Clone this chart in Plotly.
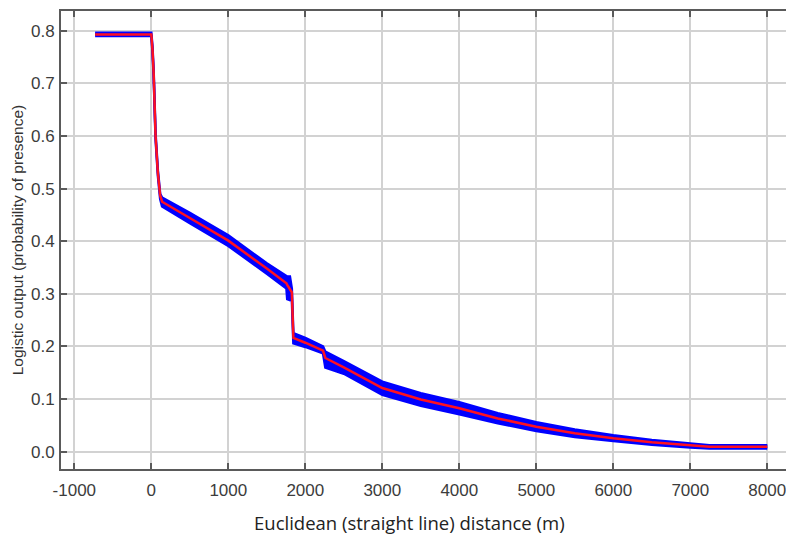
import plotly.graph_objects as go

# Distance (m)
dist = [-730, 0, 15, 30, 55, 85, 115, 140, 500, 1000, 1500, 1700, 1755, 1765, 1800, 1825, 1845,
        2000, 2230, 2260, 2500, 3000, 3500, 4000, 4500, 5000, 5500, 6000, 6500, 7000, 7250, 8000]
# Mean logistic output (red)
mean = [0.793, 0.793, 0.765, 0.72, 0.60, 0.53, 0.487, 0.475, 0.444, 0.401, 0.348, 0.327, 0.320, 0.317,
        0.309, 0.303, 0.216, 0.207, 0.192, 0.178, 0.160, 0.121, 0.099, 0.0825, 0.063, 0.0475, 0.035,
        0.0255, 0.018, 0.0127, 0.0095, 0.0095]
# Mean + SD (blue band top)
upper = [0.796, 0.796, 0.77, 0.725, 0.605, 0.535, 0.49, 0.483, 0.454, 0.411, 0.358, 0.338, 0.333, 0.333,
         0.333, 0.31, 0.225, 0.216, 0.200, 0.190, 0.172, 0.133, 0.111, 0.094, 0.073, 0.056, 0.042,
         0.031, 0.022, 0.016, 0.012, 0.012]
# Mean - SD (blue band bottom)
lower = [0.790, 0.790, 0.76, 0.715, 0.595, 0.525, 0.48, 0.466, 0.434, 0.391, 0.338, 0.316, 0.310, 0.290,
         0.288, 0.29, 0.206, 0.199, 0.187, 0.160, 0.148, 0.108, 0.087, 0.071, 0.054, 0.039, 0.028,
         0.020, 0.013, 0.008, 0.006, 0.006]

x_ticks = [-1000, 0, 1000, 2000, 3000, 4000, 5000, 6000, 7000, 8000]
y_ticks = [0.0, 0.1, 0.2, 0.3, 0.4, 0.5, 0.6, 0.7, 0.8]

BLUE = "#0000ff"
RED = "#ff1020"

fig = go.Figure()
fig.add_trace(go.Scatter(x=dist, y=upper, mode="lines",
                         line=dict(color=BLUE, width=2.5), hoverinfo="skip", showlegend=False))
fig.add_trace(go.Scatter(x=dist, y=lower, mode="lines", fill="tonexty", fillcolor=BLUE,
                         line=dict(color=BLUE, width=2.5), hoverinfo="skip", showlegend=False))
fig.add_trace(go.Scatter(x=dist, y=mean, mode="lines",
                         line=dict(color=RED, width=2.5), showlegend=False))

TICKFONT = dict(family="Liberation Sans, Arial, sans-serif", size=17, color="#3c3c3c")

axis_common = dict(
    showgrid=True, gridcolor="#d2d2d2", gridwidth=1.5,
    showline=True, linecolor="#5a5a5a", linewidth=2,
    ticks="inside", ticklen=6, tickwidth=2, tickcolor="#5a5a5a",
    zeroline=False, automargin=False,
    tickfont=TICKFONT,
)

fig.update_layout(
    width=786, height=537,
    margin=dict(l=53, r=0, t=3, b=76),
    paper_bgcolor="white", plot_bgcolor="white",
    xaxis=dict(range=[-1173, 8347], tickmode="array", tickvals=x_ticks,
               ticktext=[str(v) for v in x_ticks], mirror="ticks",
               ticklabelstandoff=5, **axis_common),
    yaxis=dict(range=[-0.033, 0.8375], tickmode="array", tickvals=y_ticks,
               ticktext=[f"{v:.1f}" for v in y_ticks], mirror=False,
               ticklabelstandoff=1,
               title=dict(text="Logistic output (probability of presence)",
                          font=dict(family="Liberation Sans, Arial, sans-serif", size=15.5, color="#333333"),
                          standoff=4),
               **axis_common),
    annotations=[dict(text="Euclidean (straight line) distance (m)", xref="paper", yref="paper",
                      x=(409 - 61) / (794 - 61), y=-(522 - 469) / (469 - 11),
                      xanchor="center", yanchor="middle", showarrow=False,
                      font=dict(family="Open Sans, Lato, sans-serif", size=18.5, color="#222222"))],
)

fig.write_html("out.html")
